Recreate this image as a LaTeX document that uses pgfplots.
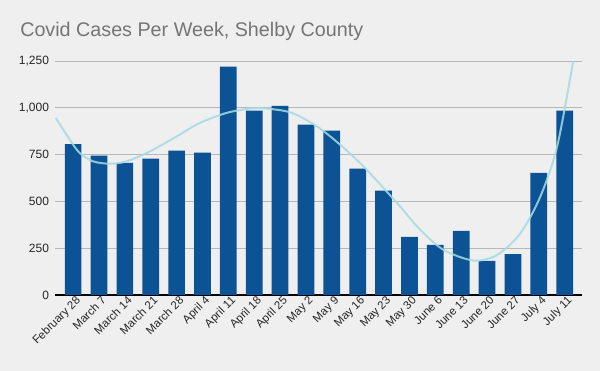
\documentclass[border=0pt]{standalone}
\usepackage{pgfplots}
\pgfplotsset{compat=1.18}
\usepackage{fontspec}
\setmainfont{Liberation Sans}
\definecolor{bgc}{HTML}{EFEFEF}
\definecolor{barc}{HTML}{0B5394}
\definecolor{trendc}{HTML}{A6DBE2}
\definecolor{gridc}{HTML}{B7B7B7}
\definecolor{titlec}{HTML}{757575}
\begin{document}
\begin{tikzpicture}
\fill[bgc] (0pt,0pt) rectangle (450pt,278.25pt);
\node[anchor=base west, text=titlec, font=\fontsize{14.8pt}{16pt}\selectfont, inner sep=0pt] at (15pt,250.5pt) {Covid Cases Per Week, Shelby County};
\begin{axis}[
  at={(41.25pt,57pt)}, anchor=south west,
  scale only axis, width=395.25pt, height=175.5pt,
  xmin=-0.7, xmax=19.67, ymin=0, ymax=1250,
  axis x line*=bottom, axis y line*=left,
  y axis line style={draw=none},
  x axis line style={black, line width=0.8pt, -},
  ytick={0,250,500,750,1000,1250},
  ymajorgrids, grid style={gridc, line width=0.6pt},
  major tick length=0pt,
  xtick={0,...,19},
  xticklabels={February 28,March 7,March 14,March 21,March 28,April 4,April 11,April 18,April 25,May 2,May 9,May 16,May 23,May 30,June 6,June 13,June 20,June 27,July 4,July 11},
  x tick label style={rotate=45, anchor=north east, font=\fontsize{8.6pt}{9pt}\selectfont, text=black!85, inner sep=1pt, xshift=2pt},
  y tick label style={font=\fontsize{9pt}{10pt}\selectfont, text=black!85, xshift=-1pt},
  /pgf/number format/assume math mode=true,
  /pgf/number format/1000 sep={,},
  scaled y ticks=false,
  clip=true,
]
\addplot[ybar, bar width=0.645, fill=barc, draw=none] coordinates {
(0,806) (1,744) (2,706) (3,728) (4,771) (5,760) (6,1220) (7,985) (8,1010) (9,910)
(10,878) (11,675) (12,557) (13,310) (14,268) (15,343) (16,182) (17,219) (18,653) (19,985)
};
\addplot[smooth, trendc, line width=1.5pt, opacity=0.85] coordinates {
(-0.67,946) (-0.13,830) (0.26,758) (0.77,714) (1.42,701) (2.07,714) (2.97,767) (4.0,847)
(4.9,919) (5.94,973) (6.84,996) (7.23,999) (8.39,976) (9.42,901) (10.32,803) (11.22,687)
(12.06,562) (12.64,473) (13.42,348) (14.32,241) (15.48,184) (16.39,214) (17.29,330)
(18.06,526) (18.71,794) (19.33,1249)
};
\end{axis}
\end{tikzpicture}
\end{document}
